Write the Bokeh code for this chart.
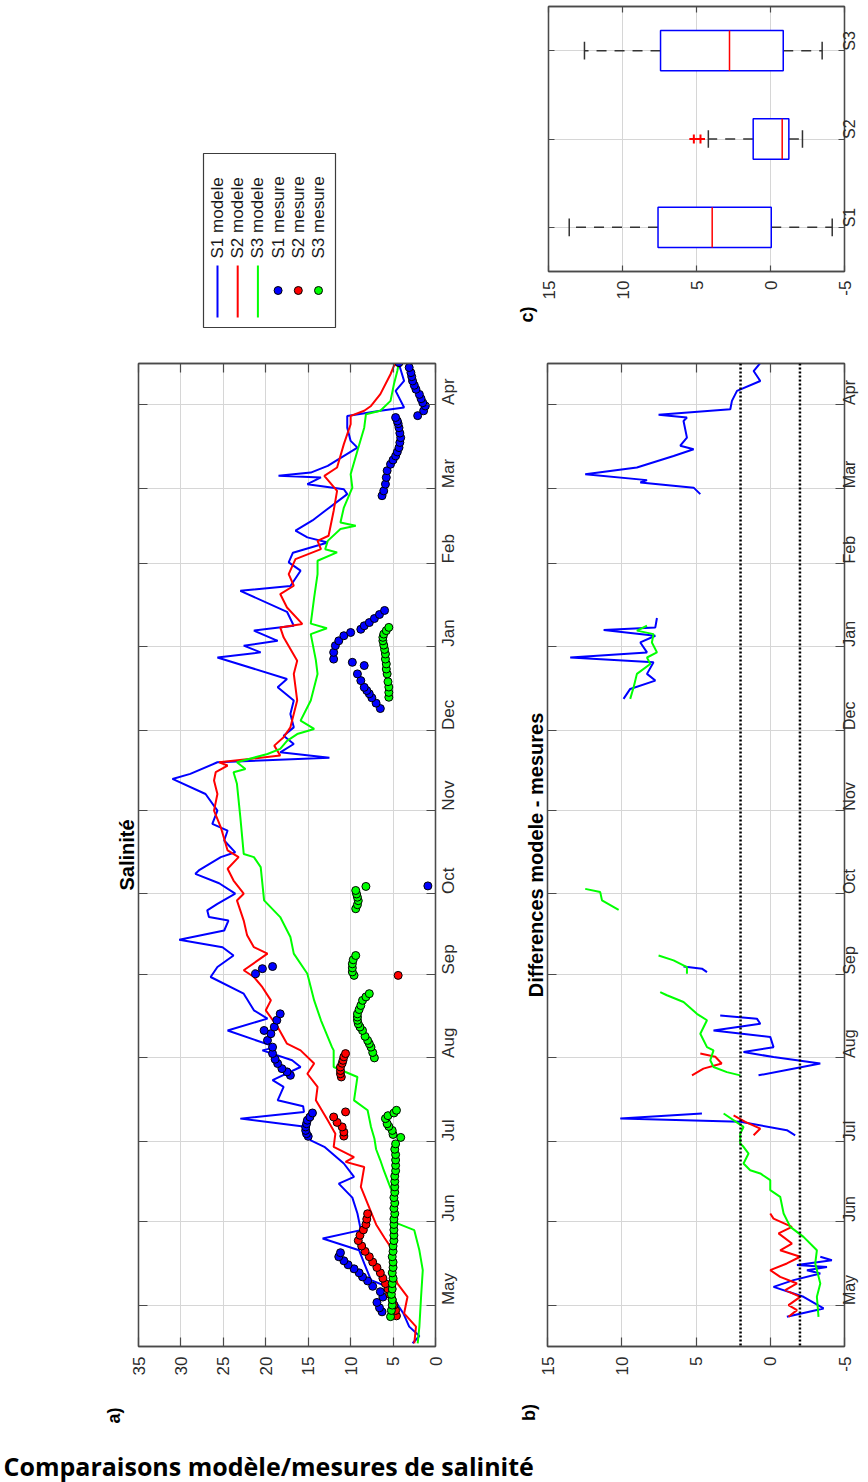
import math
import numpy as np
from bokeh.plotting import figure
from bokeh.models import Range1d, FixedTicker, LinearAxis, Span
from bokeh.layouts import column, row
from bokeh.embed import file_html
from bokeh.resources import INLINE
from bokeh.core.properties import value

nan = float("nan")

# ---------------- time axis (days since 1 May) ----------------
month_days = [0, 31, 61, 92, 123, 153, 184, 214, 245, 276, 304, 335]
month_labels = ["May", "Jun", "Jul", "Aug", "Sep", "Oct", "Nov", "Dec", "Jan", "Feb", "Mar", "Apr"]
day_start, day_end = -15.4, 350.4

sal_ticks = [35, 30, 25, 20, 15, 10, 5, 0]
sal_tick_labels = ["35", "30", "25", "20", "15", "10", "5", "0"]
diff_ticks = [15, 10, 5, 0, -5]
diff_tick_labels = ["15", "10", "5", "0", "-5"]

# ---------------- a) Salinité : model series ----------------
s1_mod_day = [-14.2, -11.5, -8.0, -3.0, -0.6, 3.0, 7.4, 9.3, 15.5, 20.4, 24.8, 27.9, 34.1, 40.0, 45.2, 47.7, 52.7, 58.9,
              61.3, 66.3, 69.4, 71.9, 74.0, 76.2, 81.2, 83.7, 88.6, 91.1, 94.8, 96.0, 102.2, 106.6, 109.7, 115.9, 122.1,
              125.8, 130.1, 133.2, 136.0, 139.4, 143.1, 144.4, 146.9, 149.3, 153.1, 157.0, 160.5, 162.0, 166.7, 168.5,
              172.9, 176.6, 179.1, 184.0, 190.2, 195.8, 197.7, 202.0, 203.7, 205.7, 208.8, 211.9, 215.0, 220.0, 225.0,
              229.9, 233.0, 241.0, 242.9, 245.4, 247.2, 251.0, 252.8, 258.0, 265.8, 267.6, 273.3, 276.4, 280.0, 283.8,
              285.7, 288.2, 292.0, 295.6, 301.8, 303.6, 305.5, 308.0, 308.6, 309.8, 312.3, 319.1, 321.6, 326.5, 330.9,
              332.8, 334.0, 340.2, 343.9, 350.1]
s1_mod_sal = [2.7, 1.9, 3.1, 3.8, 4.3, 5.0, 6.1, 7.6, 8.4, 9.0, 13.3, 8.8, 9.2, 9.8, 11.4, 9.6, 10.8, 13.1,
              14.7, 15.1, 23.0, 15.5, 15.6, 18.6, 17.9, 19.2, 15.9, 16.9, 20.4, 18.8, 24.5, 19.8, 21.4, 22.6, 26.5,
              25.7, 23.8, 25.1, 30.2, 24.9, 24.4, 26.7, 26.9, 25.7, 23.6, 25.5, 28.3, 27.8, 25.3, 23.6,
              24.9, 24.5, 26.3, 25.7, 27.1, 31.0, 28.9, 25.7, 12.5, 18.3, 16.7, 17.9, 16.7, 17.1, 16.7,
              18.6, 17.5, 25.7, 20.6, 22.6, 18.6, 21.4, 16.7, 17.5, 23.0, 17.1, 15.9, 17.3, 16.8, 12.7,
              15.1, 16.5, 14.5, 13.0, 10.4, 10.8, 15.1, 13.5, 18.5, 14.7, 12.7, 9.2, 10.0, 10.4, 10.4,
              6.5, 3.7, 4.7, 3.7, 4.3]

s2_mod_day = [-14.2, -8.0, -3.1, 3.1, 8.1, 14.0, 19.8, 25.0, 30.0, 37.8, 44.0, 51.4, 53.3, 55.1, 58.9, 63.8, 68.8,
              76.2, 81.2, 86.1, 89.9, 94.8, 97.3, 103.5, 109.7, 113.4, 118.3, 122.1, 124.6, 130.8, 133.2, 137.6, 143.1,
              150.6, 153.1, 158.0, 162.4, 166.7, 169.2, 177.8, 184.0, 190.2, 195.2, 198.3, 200.8, 202.0, 204.5, 208.2,
              211.3, 215.0, 225.0, 234.9, 239.8, 248.5, 252.2, 253.5, 259.6, 264.6, 267.7, 272.0, 277.6, 281.3, 284.4,
              286.3, 295.6, 303.0, 308.6, 311.7, 320.4, 327.8, 330.9, 332.8, 334.6, 339.0, 346.4, 349.5, 351.3]
s2_mod_sal = [2.5, 2.3, 3.7, 3.3, 4.5, 5.0, 4.9, 6.0, 7.0, 8.0, 8.8, 8.4, 10.6, 9.6, 12.0, 11.8, 12.7,
              14.1, 13.9, 15.1, 14.3, 15.9, 17.5, 18.6, 20.0, 19.4, 20.4, 21.4, 22.6, 19.8, 21.4, 22.2, 22.6,
              23.4, 22.6, 23.8, 24.5, 23.2, 24.5, 25.3, 26.1, 25.7, 26.1, 25.9, 24.5, 25.5, 18.3, 19.0,
              17.9, 17.1, 16.3, 16.7, 16.3, 17.9, 18.3, 15.7, 17.5, 18.3, 16.7, 17.3, 16.5, 13.5, 13.9,
              12.6, 12.0, 11.6, 13.1, 11.6, 10.8, 10.0, 10.0, 8.4, 7.6, 6.5, 5.3, 4.9, 4.3]

s3_mod_day = [-14.2, -8.0, 3.1, 13.0, 20.4, 27.9, 30.4, 40.3, 50.2, 53.9, 58.0, 62.0, 66.3, 72.5, 76.2, 84.9, 88.6,
              94.8, 96.0, 106.0, 113.4, 123.3, 130.8, 137.0, 144.4, 150.6, 163.0, 166.7, 167.9, 181.6, 194.0, 198.3,
              199.5, 202.0, 205.1, 207.0, 210.0, 212.5, 214.4, 217.5, 225.0, 234.9, 240.0, 249.7, 251.9, 253.6, 263.3,
              272.0, 277.0, 280.1, 281.3, 284.4, 288.8, 290.0, 291.2, 296.8, 304.2, 309.2, 317.9, 326.5, 331.5, 332.8,
              336.5, 342.7, 347.6, 351.0]
s3_mod_sal = [2.1, 1.9, 1.7, 1.5, 1.9, 2.5, 4.5, 4.9, 6.1, 6.5, 7.0, 7.2, 7.6, 8.0, 9.6, 9.2, 12.0,
              12.0, 12.2, 13.5, 14.3, 15.1, 16.7, 17.1, 18.3, 20.2, 20.6, 21.4, 22.6, 23.0, 23.4, 23.8,
              22.4, 23.4, 19.8, 18.3, 17.5, 16.3, 14.3, 15.9, 14.7, 13.9, 14.1, 14.7, 12.8, 14.7, 14.3,
              13.9, 13.9, 11.6, 13.0, 12.7, 11.2, 9.4, 11.2, 10.8, 9.8, 10.0, 9.2, 8.4, 8.2, 6.5,
              5.3, 4.9, 4.5, 4.3]

# ---------------- a) Salinité : measurements ----------------
s1_mes_day = [-2.5, -1.0, 1.0, 3.0, 5.0, 7.0, 9.0, 10.5, 12.0, 13.5, 15.0, 16.5, 18.0, 19.5,
              62.8, 63.8, 65.0, 66.3, 67.5, 68.8, 70.0, 71.5,
              85.5, 86.8, 88.0, 89.9, 91.5, 93.6, 96.0, 98.5, 101.0, 102.2, 103.5, 106.0, 108.4,
              123.3, 125.2, 126.0,
              156.0,
              222.0, 224.0, 226.0, 227.5, 228.7, 229.9, 232.4, 234.9, 238.0, 239.2, 240.4, 242.9, 245.4, 247.2, 249.1,
              250.3, 251.5, 252.8, 254.0, 255.5, 257.0, 258.5,
              301.2, 303.0, 305.5, 308.0, 310.5, 312.9, 314.5, 316.0, 317.5, 319.1, 321.0, 322.8, 324.5, 326.5, 328.0,
              329.0, 330.3,
              331.0, 332.8, 334.6, 335.8, 337.3, 338.9, 340.8, 342.3, 343.9, 345.5, 347.0, 348.9, 350.7]
s1_mes_sal = [6.3, 6.6, 6.9, 6.2, 6.5, 7.4, 8.0, 8.6, 9.0, 9.6, 10.3, 10.8, 11.4, 11.2,
              15.0, 15.2, 15.3, 15.3, 15.2, 15.1, 14.8, 14.5,
              17.1, 17.5, 18.1, 18.6, 18.9, 19.2, 19.2, 19.8, 19.4, 20.2, 19.0, 18.7, 18.3,
              21.2, 20.4, 19.2,
              0.9,
              6.5, 7.0, 7.5, 7.8, 8.1, 8.4, 8.8, 9.2, 8.4, 9.8, 12.0, 12.0, 11.8, 11.4, 10.8,
              10.0, 8.8, 8.4, 7.8, 7.2, 6.6, 6.0,
              6.3, 6.1, 5.9, 5.8, 5.7, 5.3, 5.0, 4.7, 4.5, 4.3, 4.2, 4.1, 4.2, 4.3, 4.4,
              4.5, 4.7,
              2.1, 1.4, 1.2, 1.5, 1.7, 1.9, 2.3, 2.5, 2.7, 2.8, 2.9, 3.1, 4.3]

s2_mes_day = [-4, -2, 0, 2, 4, 6, 8, 10, 12, 14, 16, 18, 20, 22, 24, 26, 28, 30, 32, 34,
              62.9, 64.4, 66.3, 68.0, 70.0, 71.9,
              84.9, 86.1, 87.3, 88.6, 90.0, 91.1, 92.4, 93.6,
              122.7]
s2_mes_sal = [4.6, 4.7, 4.9, 5.1, 5.4, 5.6, 5.9, 6.2, 6.5, 6.9, 7.4, 7.8, 8.3, 8.7, 9.1, 8.9, 8.5, 8.2, 8.1, 8.0,
              10.8, 10.8, 11.0, 11.6, 12.0, 10.6,
              11.1, 11.2, 11.2, 11.2, 11.0, 10.9, 10.8, 10.6,
              4.4]

s3_mes_day = [-4.3, -2, 0, 2, 4, 6, 8, 10, 12, 14, 16, 18, 20, 22, 24, 26, 28, 30, 32, 34, 36, 38, 40, 42, 44,
              46, 48, 50, 52, 54, 56, 58, 60, 62.4, 63.5, 65, 66.5, 67.5, 69.4, 70.5, 71.5, 72.5,
              92, 94, 96, 97.3, 98.5, 100, 102.2, 103.5, 104.7, 106, 107.2, 108.4, 110, 111.5, 113.4, 114.7, 115.9,
              122.7, 124, 125.5, 127, 128.5, 130.1,
              147.5, 149, 150.5, 151.8, 153, 154.3, 155.8,
              226.2, 228, 230, 232, 234.9, 236.7, 238.6, 240.4, 242.3, 244, 245.6, 247.2, 248.5, 249.7, 251, 252.2]
s3_mes_sal = [5.3, 5.2, 5.1, 5.1, 5.2, 5.1, 5.1, 5.0, 5.1, 5.0, 5.0, 5.1, 5.0, 5.0, 4.9, 4.9, 4.9, 4.9, 4.9, 4.8,
              4.9, 4.8, 4.9, 4.8, 4.8, 4.8, 4.8, 4.7, 4.7, 4.7, 4.7, 4.8, 4.7, 4.1, 5.0, 5.1, 5.5, 5.7, 5.9,
              5.6, 4.9, 4.6,
              7.2, 7.4, 7.6, 7.8, 8.0, 8.3, 8.6, 8.9, 9.1, 9.2, 9.2, 9.2, 9.0, 8.8, 8.6, 8.2, 7.8,
              9.6, 9.8, 9.8, 9.8, 9.7, 9.4,
              9.4, 9.2, 9.1, 9.2, 9.3, 9.4, 8.2,
              5.5, 5.5, 5.5, 5.6, 5.7, 5.8, 5.8, 5.9, 5.9, 6.0, 6.1, 6.2, 6.2, 6.1, 5.8, 5.5]

# ---------------- b) Differences modele - mesures (nan = gap) ----------------
d1_day = [-4.35, -1.24, 3.09, 6.8, 9.3, 11.8, 13.0, 14.2, 14.9, 16.7, 18.0, nan,
          63.2, 65.1, 68.2, 69.4, 71.3, nan,
          85.5, 89.9, 92.3, 94.2, 96.0, 99.8, 102.2, 104.7, 106.6, 107.8, nan,
          123.9, 125.2, 126.0, nan,
          225.6, 229.3, 232.4, 234.9, 239.2, 241.0, 242.9, 246.6, 249.1, 251.2, 252.2, 255.7, nan,
          301.8, 304.2, 306.1, 307.0, 309.2, 311.7, 316.0, 318.5, 319.8, 322.8, 329.0, 330.3, 331.3, 333.4, 336.5,
          340.2, 343.9, 347.6, 351.3]
d1_val = [-1.12, -3.59, -2.24, -0.22, -1.57, -3.37, -2.47, -3.82, -1.8, -4.15, -3.37, nan,
          -1.68, -1.12, 2.02, 10.1, 4.6, nan,
          0.79, -3.37, -0.22, 1.8, -0.22, 0.0, 3.82, 0.67, 0.9, 3.37, nan,
          4.26, 4.6, 5.84, nan,
          9.88, 9.43, 7.74, 8.3, 7.86, 13.47, 8.3, 8.75, 7.74, 11.22, 7.74, 7.63, nan,
          4.71, 5.16, 8.75, 8.3, 12.46, 8.98, 6.51, 5.16, 6.06, 5.61, 5.84, 5.61, 7.52, 2.69, 2.58,
          2.24, 0.67, 1.12, 0.56]

d2_day = [-4.35, -1.86, 0.0, 3.09, 5.58, 8.06, 10.5, 13.0, 15.5, 18.0, 20.4, 22.9, 26.7, 29.1, 32.2, 34.1, nan,
          63.2, 65.7, 68.2, 70.6, nan,
          85.5, 88.0, 89.9, 92.4, 93.6]
d2_val = [-1.23, -1.8, -1.23, -2.02, -1.01, -1.8, -0.67, 0.0, -1.12, -2.02, -0.67, -1.46, -0.56, -1.46, -0.22, 0.0, nan,
          1.12, 0.67, 1.68, 2.47, nan,
          5.27, 4.5, 3.27, 3.7, 4.71]

d3_day = [-4.35, 3.09, 8.06, 15.5, 20.4, 25.4, 29.1, 34.1, 40.3, 42.8, 46.5, 49.0, 50.2, 52.7, 56.4, 58.9, 60.1,
          63.8, 66.3, 71.3, nan,
          85.5, 86.7, 88.6, 91.1, 94.8, 96.0, 101.0, 106.0, 108.4, 112.8, 115.3, 116.5, nan,
          123.3, 125.8, 128.3, 130.1, nan,
          147.1, 150.6, 153.7, 154.9, nan,
          225.6, 229.9, 234.9, 238.6, 241.0, 242.9, 246.6, 249.7, 251.0, 252.8]
d3_val = [-3.25, -3.14, -3.37, -3.03, -3.14, -2.24, -1.35, -0.9, -0.67, 0.0, 0.0, 0.67, 1.35, 1.8, 1.46, 1.8, 2.02,
          2.02, 1.8, 3.14, nan,
          2.02, 2.92, 3.82, 4.04, 3.82, 4.26, 4.71, 4.26, 4.94, 5.84, 6.96, 7.41, nan,
          5.61, 5.61, 6.51, 7.52, nan,
          10.21, 11.33, 11.45, 12.46, nan,
          9.43, 9.2, 8.98, 8.08, 8.3, 7.63, 7.97, 7.86, 8.98, 8.3]

tolerance = [2.0, -2.0]

# ---------------- c) boxplot of differences ----------------
box_names = ["S1", "S2", "S3"]
box_pos = [1, 2, 3]
box_q1 = [-0.05, -1.24, -0.86]
box_q3 = [7.6, 1.17, 7.43]
box_med = [3.94, -0.79, 2.77]
box_lo = [-4.17, -2.16, -3.49]
box_hi = [13.6, 4.2, 12.57]
s2_outliers = [5.18, 4.73]

legend_names = ["S1 modele", "S2 modele", "S3 modele", "S1 mesure", "S2 mesure", "S3 mesure"]
panel_tags = ["a)", "b)", "c)"]
page_title = "Comparaisons modèle/mesures de salinité"

# ---------------- styling ----------------
FONT = "Liberation Sans"
AXC = "#4a4a4a"
GRIDC = "#d6d6d6"
BLUE, RED, GREEN = "#0000ff", "#ff0000", "#00ff00"


def no_align(p):
    try:
        p.frame_align = False
    except Exception:
        pass


def base_fig(**kw):
    p = figure(output_backend="svg", toolbar_location=None, tools="", **kw)
    p.background_fill_color = "white"
    p.border_fill_color = "white"
    p.outline_line_color = AXC
    p.outline_line_width = 1.3
    no_align(p)
    return p


def pixel_fig(w, h):
    # blank canvas in page pixels (y downwards) used for legend and free labels
    p = figure(output_backend="svg", toolbar_location=None, tools="", width=w, height=h,
               min_border=0, x_axis_location=None, y_axis_location=None,
               x_range=Range1d(0, w), y_range=Range1d(h, 0))
    p.grid.visible = False
    p.outline_line_color = None
    p.background_fill_color = "white"
    p.border_fill_color = "white"
    no_align(p)
    return p


def style_ax(ax, ticks, labels=None, show=True, standoff=6, tick_in=9, font_size="17px"):
    ax.ticker = FixedTicker(ticks=ticks)
    ax.major_tick_in = tick_in
    ax.major_tick_out = 0
    ax.minor_tick_line_color = None
    ax.major_tick_line_color = AXC
    ax.major_tick_line_width = 1.2
    ax.axis_line_color = AXC
    ax.axis_line_width = 1.3
    ax.major_label_orientation = math.pi / 2
    ax.major_label_text_font = FONT
    if show:
        ax.major_label_standoff = standoff
        ax.major_label_text_font_size = font_size
        ax.major_label_text_color = "#2b2b2b"
    else:
        ax.major_label_standoff = 0
        ax.major_label_text_font_size = "1px"
        ax.major_label_text_color = None
    if labels is not None:
        ax.major_label_overrides = {t: l for t, l in zip(ticks, labels)}


def style_title(p):
    p.title.text_font = FONT
    p.title.text_font_style = "bold"
    p.title.text_font_size = "20px"
    p.title.text_color = "#000000"
    p.title.align = "center"
    p.title.standoff = 1


def time_panel(title, xr, xticks, xlabels, border_left, border_right, month_standoff, month_font):
    p = base_fig(title=title, title_location="left", frame_width=297, frame_height=983,
                 min_border_left=border_left, min_border_right=border_right, min_border_top=23, min_border_bottom=50,
                 x_range=Range1d(*xr), y_range=Range1d(day_start, day_end), y_axis_location="right")
    style_title(p)
    style_ax(p.xaxis[0], xticks, xlabels, standoff=10)
    style_ax(p.yaxis[0], month_days, month_labels, standoff=month_standoff, font_size=month_font)
    top = LinearAxis()
    style_ax(top, xticks, show=False)
    p.add_layout(top, "above")
    left = LinearAxis()
    style_ax(left, month_days, show=False)
    p.add_layout(left, "left")
    p.xgrid.ticker = FixedTicker(ticks=xticks)
    p.ygrid.ticker = FixedTicker(ticks=month_days)
    for g in (p.xgrid, p.ygrid):
        g.grid_line_color = GRIDC
        g.grid_line_width = 1
    return p


# ---------------- panel a ----------------
pa = time_panel("Salinité", (35, 0), sal_ticks, sal_tick_labels, 138, 55, 13, "17px")
for dd, vv, c in ((s1_mod_day, s1_mod_sal, BLUE), (s2_mod_day, s2_mod_sal, RED), (s3_mod_day, s3_mod_sal, GREEN)):
    pa.line(x=np.array(vv, float), y=np.array(dd, float), line_color=c, line_width=2)
for dd, vv, c in ((s1_mes_day, s1_mes_sal, BLUE), (s2_mes_day, s2_mes_sal, RED), (s3_mes_day, s3_mes_sal, GREEN)):
    pa.scatter(x=vv, y=dd, size=8, fill_color=c, line_color="#000000", line_width=1)

# ---------------- panel b ----------------
pb = time_panel("Differences modele - mesures", (15, -5), diff_ticks, diff_tick_labels, 57, 24, 5, "16px")
for t in tolerance:
    pb.add_layout(Span(location=t, dimension="height", line_color="#000000", line_width=2.5, line_dash="2 2"))
for dd, vv, c in ((d1_day, d1_val, BLUE), (d2_day, d2_val, RED), (d3_day, d3_val, GREEN)):
    pb.line(x=np.array(vv, float), y=np.array(dd, float), line_color=c, line_width=2)

# ---------------- legend (+ tag c) ----------------
leg = pixel_fig(538, 340)
leg.quad(left=[203], right=[335], top=[153], bottom=[327], fill_color=None, line_color="#3c3c3c", line_width=1.2)
leg_x = 217 + 20.2 * np.arange(len(legend_names))
leg_cols = [BLUE, RED, GREEN, BLUE, RED, GREEN]
leg.segment(x0=leg_x[:3], y0=317, x1=leg_x[:3], y1=265, line_color=leg_cols[:3], line_width=2)
leg.scatter(x=leg_x[3:], y=290, size=8, fill_color=leg_cols[3:], line_color="#000000", line_width=1)
leg.text(x=leg_x, y=258, text=legend_names, angle=math.pi / 2, text_align="left", text_baseline="middle",
         text_font=value(FONT), text_font_size="17px", text_color="#1a1a1a")
leg.text(x=[526], y=[314], text=[panel_tags[2]], angle=math.pi / 2, text_align="center", text_baseline="middle",
         text_font=value(FONT), text_font_style="bold", text_font_size="18px", text_color="#000000")

# ---------------- panel c ----------------
pc = base_fig(frame_width=296, frame_height=265, min_border_left=10, min_border_right=24,
              min_border_top=6, min_border_bottom=69,
              x_range=Range1d(15, -5), y_range=Range1d(0.5, 3.5), y_axis_location="right")
style_ax(pc.xaxis[0], diff_ticks, diff_tick_labels, standoff=9, tick_in=6)
style_ax(pc.yaxis[0], box_pos, box_names, standoff=5, tick_in=6, font_size="16px")
ctop = LinearAxis()
style_ax(ctop, diff_ticks, show=False, tick_in=6)
pc.add_layout(ctop, "above")
cleft = LinearAxis()
style_ax(cleft, box_pos, show=False, tick_in=6)
pc.add_layout(cleft, "left")
pc.xgrid.ticker = FixedTicker(ticks=diff_ticks)
pc.ygrid.ticker = FixedTicker(ticks=box_pos)
for g in (pc.xgrid, pc.ygrid):
    g.grid_line_color = GRIDC
    g.grid_line_width = 1
pos = np.array(box_pos, float)
half_box, half_cap = 0.228, 0.10
pc.segment(x0=box_q3, y0=pos, x1=box_hi, y1=pos, line_color="#333333", line_width=1.5, line_dash="10 8")
pc.segment(x0=box_q1, y0=pos, x1=box_lo, y1=pos, line_color="#333333", line_width=1.5, line_dash="10 8")
pc.segment(x0=box_hi, y0=pos - half_cap, x1=box_hi, y1=pos + half_cap, line_color="#333333", line_width=1.5)
pc.segment(x0=box_lo, y0=pos - half_cap, x1=box_lo, y1=pos + half_cap, line_color="#333333", line_width=1.5)
pc.quad(left=box_q1, right=box_q3, bottom=pos - half_box, top=pos + half_box,
        fill_color="white", line_color=BLUE, line_width=1.5)
pc.segment(x0=box_med, y0=pos - half_box, x1=box_med, y1=pos + half_box, line_color=RED, line_width=1.5)
pc.scatter(x=s2_outliers, y=[2] * len(s2_outliers), marker="cross", size=9, line_color=RED, line_width=2)

# ---------------- foot: panel tags a), b) and page title ----------------
foot = pixel_fig(868, 86)
foot.text(x=[113, 528], y=[19, 16], text=panel_tags[:2], angle=math.pi / 2, text_align="center",
          text_baseline="middle", text_font=value(FONT), text_font_style="bold", text_font_size="18px",
          text_color="#000000")
foot.text(x=[3], y=[69], text=[page_title], text_align="left", text_baseline="middle",
          text_font=value("Open Sans"), text_font_style="bold", text_font_size="25px", text_color="#000000")

layout = column(row(column(leg), column(pc)), row(pa, pb), foot)
open("out.html", "w").write(file_html(layout, INLINE, title="Salinité"))
